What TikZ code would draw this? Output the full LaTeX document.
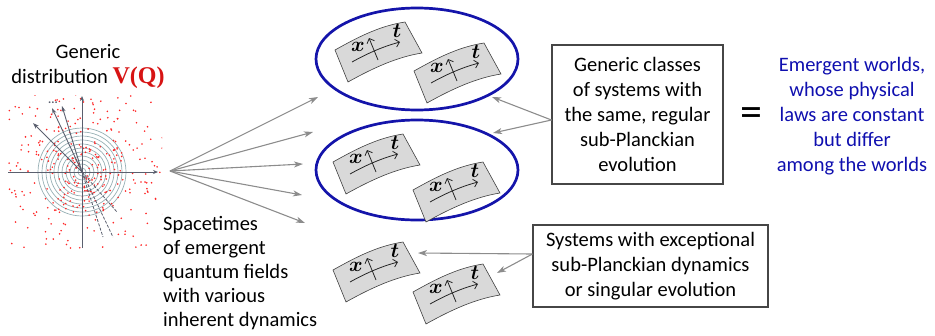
\documentclass[tikz,border=0pt]{standalone}
\usepackage{fontspec}
\usepackage{bm}
\setmainfont{Carlito}
\newfontfamily\serifv{Liberation Serif}
\usetikzlibrary{arrows.meta,shapes.geometric,calc}
\definecolor{arrgray}{RGB}{140,140,140}
\definecolor{ellblue}{RGB}{20,20,170}
\definecolor{txtblue}{RGB}{15,15,175}
\definecolor{vred}{RGB}{215,20,20}
\definecolor{axisc}{RGB}{90,95,110}
\definecolor{ringc}{RGB}{150,175,180}
\definecolor{boxc}{RGB}{70,70,70}
\tikzset{
  garrow/.style={draw=arrgray, line width=1.1pt, -{Stealth[length=9pt,width=6pt,inset=2.5pt]}},
  txtbox/.style={draw=boxc, line width=1.1pt, align=center, font=\fontsize{20.5}{25}\selectfont, inner sep=0pt},
  blueell/.style={ellipse, draw=ellblue, line width=2.7pt, inner sep=0pt},
  patch/.pic={
    \draw[fill=gray!30, draw=black!75, line width=0.6pt]
      (0,0) .. controls (25,-14) and (45,-24) .. (70,-28) -- (87,3)
      .. controls (62,7) and (38,18) .. (13,32) -- cycle;
    \draw[black!85, line width=0.8pt, -{Straight Barb[length=4pt]}]
      (17,12) .. controls (35,2) and (50,-4) .. (65,-8);
    \draw[black!85, line width=0.8pt, -{Straight Barb[length=4pt]}] (43,10) -- (34,-12);
    \node[font=\fontsize{21}{21}\selectfont, inner sep=0pt] at (23,-3) {$\bm{x}$};
    \node[font=\fontsize{21}{21}\selectfont, inner sep=0pt] at (62,-19) {$\bm{t}$};
  }
}
\begin{document}
\begin{tikzpicture}[x=1pt,y=-1pt]
\useasboundingbox (0,0) rectangle (935,335);

% ---------- title of distribution
\node[align=center, font=\fontsize{20.5}{25}\selectfont, inner sep=0pt] (gd) at (88,67)
  {Generic\\distribution {\color{vred}\serifv\fontsize{24}{25}\selectfont\textbf{V(Q)}}};

% ---------- scatter plot
\coordinate (O) at (82,172);
\foreach \r in {4,8,...,44}{
  \draw[ringc, line width=0.7pt] (O) circle[radius=\r];
}
\begin{scope}
\clip (8,95) rectangle (162,252);
\pgfmathsetseed{4242}
\foreach \i in {1,...,360}{
  \pgfmathsetmacro\u{0.02+0.97*rnd}
  \pgfmathsetmacro\th{360*rnd}
  \pgfmathsetmacro\rr{42*sqrt(-2*ln(\u))}
  \fill[red!85] ($(O)+(\th:\rr)$) circle[radius=0.9];
}
\end{scope}
\coordinate (axL) at (8,172);
\coordinate (axR) at (158,172);
\coordinate (axB) at (82,248);
\coordinate (axT) at (82,96);
\draw[axisc, line width=0.8pt, -{Stealth[length=5pt,width=4pt]}] (axL) -- (axR);
\draw[axisc, line width=0.8pt, -{Stealth[length=5pt,width=4pt]}] (axB) -- (axT);
\coordinate (v1) at (33,123);
\coordinate (v2) at (52,108);
\coordinate (v3) at (62,106);
\foreach \v in {v1,v2,v3}{
  \draw[axisc, line width=0.9pt, -{Stealth[length=6pt,width=4pt]}] (O) -- (\v);
}
\node[font=\fontsize{12}{12}\selectfont\bfseries, text=axisc, inner sep=0pt, text height=2pt, text depth=0pt] (dots) at (53,102) {...};
\coordinate (w1) at (117,212);
\coordinate (w2) at (113,237);
\coordinate (w3) at (103,237);
\foreach \w in {w1,w2,w3}{
  \draw[axisc, line width=0.8pt, dash pattern=on 3pt off 1.5pt] (O) -- (\w);
}

% ---------- fan arrows
\coordinate (F) at (170,171);
\coordinate (f1) at (318,97);
\coordinate (f2) at (313,132);
\coordinate (f3) at (303,164);
\coordinate (f4) at (302,195);
\coordinate (f5) at (305,223);
\foreach \f in {f1,f2,f3,f4,f5}{
  \draw[garrow] (F) -- (\f);
}

\node[anchor=north west, align=left, font=\fontsize{20.5}{24}\selectfont, inner sep=0pt] (st) at (163,216)
  {Spacetimes\\of emergent\\quantum fields\\with various\\inherent dynamics};

% ---------- ellipses with patches
\node[blueell, minimum width=202pt, minimum height=102pt] (e1) at (417,59) {};
\node[blueell, minimum width=202pt, minimum height=100pt] (e2) at (417,170) {};
\pic at (335,50) {patch};
\pic at (414,71) {patch};
\pic at (333,162) {patch};
\pic at (413,190) {patch};
\pic at (333,270) {patch};
\pic at (413,292) {patch};

% ---------- box 1
\node[txtbox, minimum width=171pt, minimum height=139pt] (b1) at (637.5,114.5)
  {Generic classes\\of systems with\\the same, regular\\sub-Planckian\\evolution};
\coordinate (b1p) at ([yshift=-5.5pt]b1.west);
\coordinate (t1) at (492,97);
\coordinate (t2) at (493,133);
\draw[garrow] (b1p) -- (t1);
\draw[garrow] (b1p) -- (t2);

% ---------- equals and blue text
\node[font=\fontsize{44}{44}\selectfont, inner sep=0pt] (eq) at (751,117) {=};
\node[align=center, text=txtblue, font=\fontsize{20.5}{25}\selectfont, inner sep=0pt] (ew) at (852,116)
  {Emergent worlds,\\whose physical\\laws are constant\\but differ\\among the worlds};

% ---------- box 2
\node[txtbox, minimum width=235pt, minimum height=82pt] (b2) at (650.5,266)
  {Systems with exceptional\\sub-Planckian dynamics\\or singular evolution};
\coordinate (b2p) at ([yshift=12pt]b2.west);
\coordinate (t3) at (418,253);
\coordinate (t4) at (497,273);
\draw[garrow] (b2p) -- (t3);
\draw[garrow] (b2p) -- (t4);
\end{tikzpicture}
\end{document}
